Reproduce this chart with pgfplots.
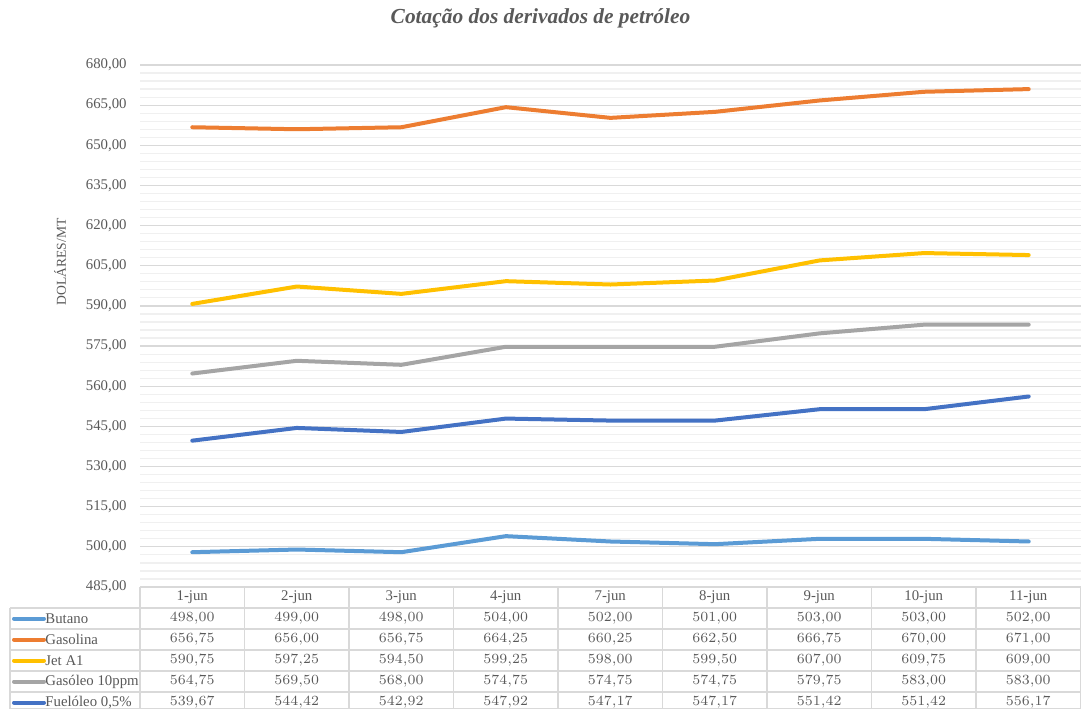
\documentclass[border=0pt]{standalone}
\usepackage{pgfplots}
\pgfplotsset{compat=1.18}
\usepackage{pgfplotstable}
\usepackage{fontspec}
\setmainfont{Liberation Serif}
\definecolor{cButano}{HTML}{5B9BD5}
\definecolor{cGasolina}{HTML}{ED7D31}
\definecolor{cJet}{HTML}{FFC000}
\definecolor{cGasoleo}{HTML}{A5A5A5}
\definecolor{cFuel}{HTML}{4472C4}
\definecolor{cgrid}{HTML}{D9D9D9}
\definecolor{cminor}{HTML}{F0F0F0}
\definecolor{ctext}{HTML}{595959}
\pgfplotstableread{
x Butano Gasolina JetA1 Gasoleo Fuel
0 498.00 656.75 590.75 564.75 539.67
1 499.00 656.00 597.25 569.50 544.42
2 498.00 656.75 594.50 568.00 542.92
3 504.00 664.25 599.25 574.75 547.92
4 502.00 660.25 598.00 574.75 547.17
5 501.00 662.50 599.50 574.75 547.17
6 503.00 666.75 607.00 579.75 551.42
7 503.00 670.00 609.75 583.00 551.42
8 502.00 671.00 609.00 583.00 556.17
}\data
\newcommand{\fs}{\fontsize{7.4pt}{8pt}\selectfont}
\newcommand{\fuelname}{Fuelóleo 0,5\%}
\begin{document}
\begin{tikzpicture}
\useasboundingbox (0,0) rectangle (540.5pt,354.5pt);
\begin{axis}[at={(70pt,61pt)}, anchor=south west, scale only axis,
  width=470.5pt, height=261pt,
  xmin=-0.5, xmax=8.5, ymin=485, ymax=680,
  ytick={485,500,...,680}, minor y tick num=4, xtick=\empty,
  axis line style={draw=none},
  ymajorgrids, yminorgrids,
  major grid style={cgrid, line width=0.6pt},
  minor grid style={cminor, line width=0.6pt},
  major tick length=0pt, minor tick length=0pt,
  /pgf/number format/assume math mode=true,
  yticklabel={\pgfmathprintnumber[fixed,fixed zerofill,precision=2,use comma,1000 sep={}]{\tick}},
  yticklabel style={font=\fs, text=ctext, inner sep=0pt, anchor=east, xshift=-6.5pt},
  ylabel={DOLÁRES/MT},
  every axis y label/.style={at={(axis description cs:0,0.623)}, xshift=-40pt, rotate=90, anchor=center, font=\fontsize{6.8pt}{7pt}\selectfont, text=ctext},
  clip=false,
  every axis plot/.append style={line width=2pt, line cap=round, line join=round},
]
\addplot[cButano] table[x=x,y=Butano]{\data};
\addplot[cGasolina] table[x=x,y=Gasolina]{\data};
\addplot[cJet] table[x=x,y=JetA1]{\data};
\addplot[cGasoleo] table[x=x,y=Gasoleo]{\data};
\addplot[cFuel] table[x=x,y=Fuel]{\data};
\end{axis}
\node[font=\fontsize{10.7pt}{12pt}\selectfont\bfseries\itshape, text=ctext] at (270.25pt,345.5pt) {Cotação dos derivados de petróleo};
\begin{scope}[x=0.5pt,y=-0.5pt,yshift=354.5pt]
  \draw[cgrid, line width=0.6pt] (140,587) -- (1080.5,587);
  \foreach \yy in {608,629,650,671,692,708.5} \draw[cgrid, line width=0.6pt] (10,\yy) -- (1080.5,\yy);
  \draw[cgrid, line width=0.6pt] (10,608) -- (10,709);
  \foreach \k in {0,...,8} \draw[cgrid, line width=0.6pt] ({140+104.5*\k},587) -- ({140+104.5*\k},709);
  \draw[cgrid, line width=0.6pt] (1080.5,587) -- (1080.5,709);
  \foreach \lab [count=\i from 0] in {1-jun,2-jun,3-jun,4-jun,7-jun,8-jun,9-jun,10-jun,11-jun}
    \node[font=\fs, text=ctext] at ({140+104.5*(\i+0.5)},597.5) {\lab};
  \foreach \col/\name/\clr [count=\r from 0] in {Butano/Butano/cButano,Gasolina/Gasolina/cGasolina,JetA1/Jet A1/cJet,Gasoleo/Gasóleo 10ppm/cGasoleo,Fuel/\fuelname/cFuel}{
    \draw[\clr, line width=2pt, line cap=round] (14,{618.5+21*\r}) -- (44,{618.5+21*\r});
    \node[font=\fs, text=ctext, anchor=west, inner sep=0pt] at (45,{618.5+21*\r}) {\name};
    \foreach \c in {0,...,8}{
      \pgfplotstablegetelem{\c}{\col}\of\data
      \node[font=\fs, text=ctext] at ({140+104.5*(\c+0.5)},{618.5+21*\r}) {\pgfmathprintnumber[fixed,fixed zerofill,precision=2,use comma,1000 sep={}]{\pgfplotsretval}};
    }
  }
\end{scope}
\end{tikzpicture}
\end{document}
